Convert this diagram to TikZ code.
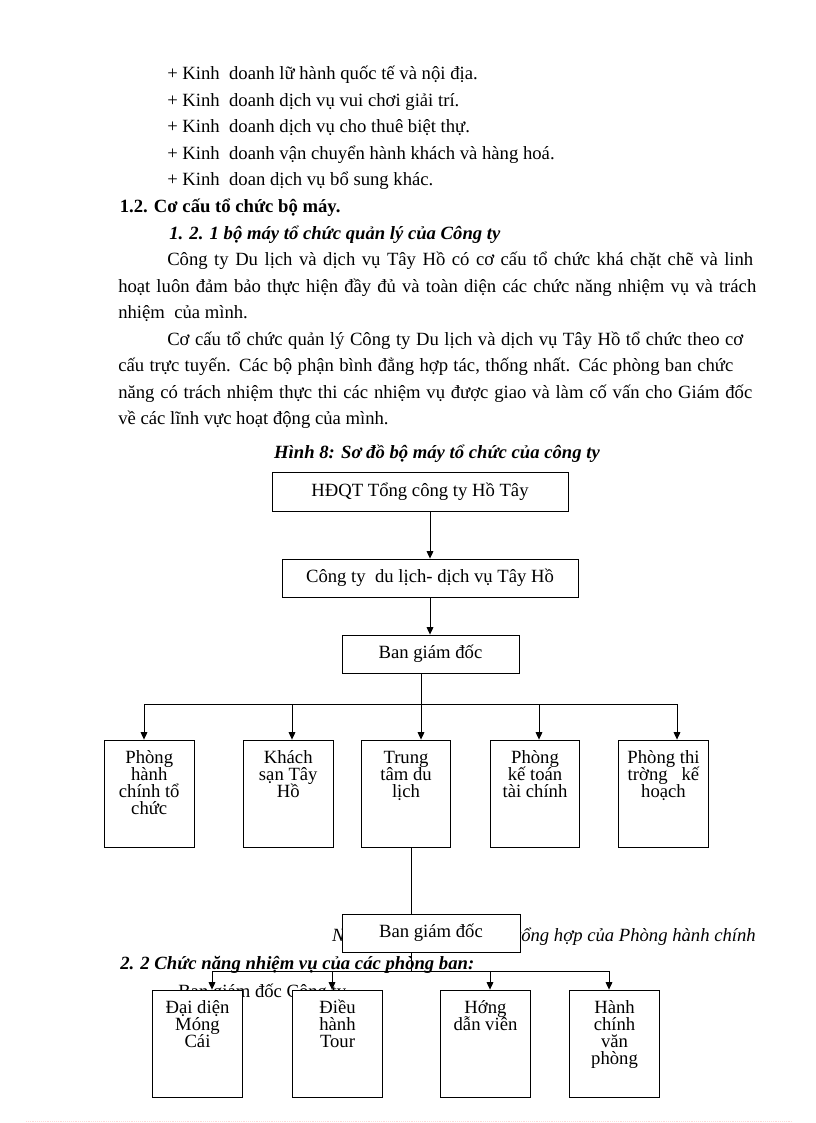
\documentclass[tikz,border=0pt]{standalone}
\usepackage{fontspec}
\setmainfont{Liberation Serif}
\usetikzlibrary{arrows.meta, calc}

\newcommand{\bodyfont}{\fontsize{14pt}{17pt}\selectfont}
\newcommand{\deptlabel}[1]{\parbox[c][80.25pt][t]{67.125pt}{\centering\lineskiplimit=-20pt\rule{0pt}{17.25pt}#1}}

\tikzset{
  txt/.style={anchor=base west, inner sep=0, font=\bodyfont},
  unit/.style={draw, fill=white, inner sep=0, line width=.65pt, minimum height=28.5pt, font=\bodyfont},
  dept/.style={draw, fill=white, inner sep=0, line width=.65pt, font=\fontsize{14pt}{12.75pt}\selectfont},
  link/.style={line width=.65pt},
  arr/.style={line width=.65pt, -{Triangle[length=5.5pt,width=5pt]}},
}

\begin{document}
\begin{tikzpicture}[x=.75pt, y=-.75pt]
\useasboundingbox (0,0) rectangle (816,1123);

% page text
\node[txt] (k1) at (167,80) {+ Kinh~ doanh lữ hành quốc tế và nội địa.};
\node[txt] (k2) at (167,106.5) {+ Kinh~ doanh dịch vụ vui chơi giải trí.};
\node[txt] (k3) at (167,133) {+ Kinh~ doanh dịch vụ cho thuê biệt thự.};
\node[txt] (k4) at (167,159.5) {+ Kinh~ doanh vận chuyển hành khách và hàng hoá.};
\node[txt] (k5) at (167,186) {+ Kinh~ doan dịch vụ bổ sung khác.};
\node[txt, font=\bodyfont\bfseries] (h1) at (119.5,212.5) {1.2. Cơ cấu tổ chức bộ máy.};
\node[txt, font=\bodyfont\bfseries\itshape] (h2) at (169,239) {1. 2. 1 bộ máy tổ chức quản lý của Công ty};
\node[txt] (p1) at (167,265.5) {\makebox[439.5pt][s]{Công ty Du lịch và dịch vụ Tây Hồ có cơ cấu tổ chức khá chặt chẽ và linh}};
\node[txt] (p2) at (118,292) {\makebox[478.5pt][s]{hoạt luôn đảm bảo thực hiện đầy đủ và toàn diện các chức năng nhiệm vụ và trách}};
\node[txt] (p3) at (118,318.5) {nhiệm~ của mình.};
\node[txt] (q1) at (167,345) {\makebox[432pt][s]{Cơ cấu tổ chức quản lý Công ty Du lịch và dịch vụ Tây Hồ tổ chức theo cơ}};
\node[txt] (q2) at (118,371.5) {\makebox[461.25pt][s]{cấu trực tuyến. Các bộ phận bình đẳng hợp tác, thống nhất. Các phòng ban chức}};
\node[txt] (q3) at (118,398) {\makebox[475.5pt][s]{năng có trách nhiệm thực thi các nhiệm vụ được giao và làm cố vấn cho Giám đốc}};
\node[txt] (q4) at (118,424.5) {về các lĩnh vực hoạt động của mình.};
\node[txt, anchor=base, font=\bodyfont\bfseries\itshape] (cap) at (437,458) {Hình 8: Sơ đồ bộ máy tổ chức của công ty};

% text lying under the lower chart
\node[txt, anchor=base east, font=\bodyfont\itshape] (src) at (756,941) {Nguồn:\hspace{46.25pt}Báo cáo tổng hợp của Phòng hành chính};
\node[txt, font=\bodyfont\bfseries\itshape] (h3) at (120,969) {2. 2 Chức năng nhiệm vụ của các phòng ban:};
\node[txt] (bgdct) at (178,997) {Ban giám đốc Công ty};

% upper chart
\node[unit, minimum width=222pt, minimum height=29.25pt] (hdqt) at (420,491.5) {HĐQT Tổng công ty Hồ Tây};
\node[unit, minimum width=222pt] (cty) at (430,578) {Công ty~ du lịch- dịch vụ Tây Hồ};
\node[unit, minimum width=132.75pt] (bgd) at (430.5,654) {Ban giám đốc};

\node[dept] (b1) at (149.25,793.5) {\deptlabel{Phòng\\hành\\chính tổ\\chức}};
\node[dept] (b2) at (288.25,793.5) {\deptlabel{Khách\\sạn Tây\\Hồ}};
\node[dept] (b3) at (406,793.5) {\deptlabel{Trung\\tâm du\\lịch}};
\node[dept] (b4) at (535,793.5) {\deptlabel{Phòng\\kế toán\\tài chính}};
\node[dept] (b5) at (663.5,793.5) {\deptlabel{Phòng thi\\trờng~~ kế\\hoạch}};

\draw[arr] (hdqt.south -| cty.north) -- (cty.north);
\draw[arr] (cty.south) -- (cty.south |- bgd.north);
\foreach \x [count=\i] in {144,292,421,539,677}
  \coordinate (t\i) at (\x,704);
\draw[link] (bgd.south -| t3) -- (t3);
\draw[link] (t1) -- (t5);
\foreach \i in {1,...,5}
  \draw[arr] (t\i) -- (t\i |- b\i.north);

% lower chart
\node[unit, minimum width=133.5pt] (bgd2) at (431,933) {Ban giám đốc};

\node[dept] (d1) at (197.5,1043.5) {\deptlabel{Đại diện\\Móng\\Cái}};
\node[dept] (d2) at (337.5,1043.5) {\deptlabel{Điều\\hành\\Tour}};
\node[dept] (d3) at (485.5,1043.5) {\deptlabel{Hớng\\dẫn viên}};
\node[dept] (d4) at (614.5,1043.5) {\deptlabel{Hành\\chính\\văn\\phòng}};

\coordinate (u0) at (411,971);
\draw[link] (u0 |- b3.south) -- (u0 |- bgd2.north);
\draw[link] (u0 |- bgd2.south) -- (u0);
\foreach \x [count=\i] in {212,332,490,609}
  \coordinate (u\i) at (\x,971);
\draw[link] (u1) -- (u4);
\foreach \i in {1,...,4}
  \draw[arr] (u\i) -- (u\i |- d\i.north);

% page edge
\draw[densely dotted, pink!60] (26,1121) -- (792,1121);
\end{tikzpicture}
\end{document}
